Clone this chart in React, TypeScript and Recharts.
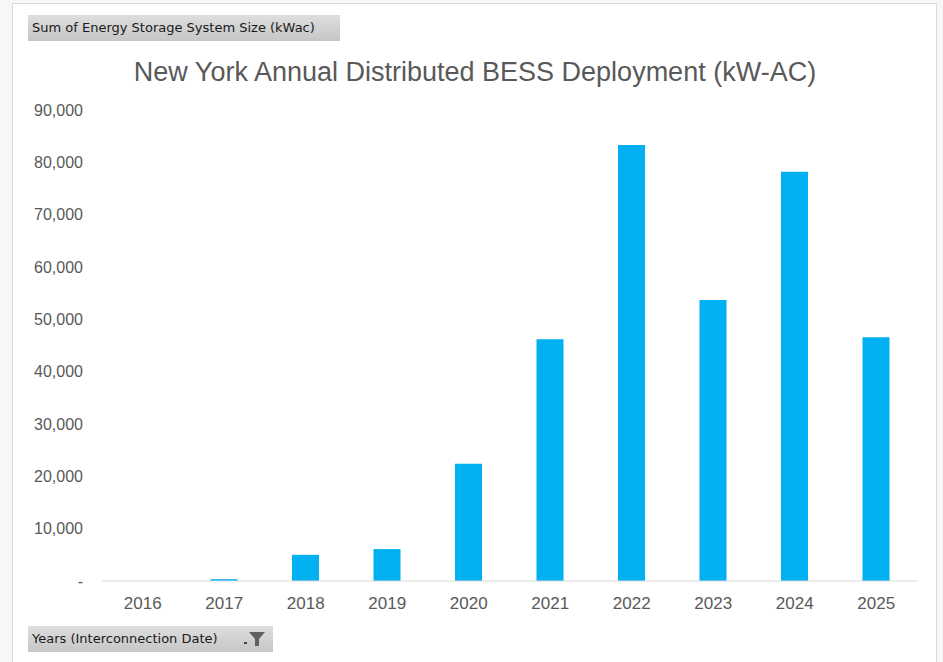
import { BarChart, Bar, XAxis, YAxis } from "recharts";

const years = ["2016", "2017", "2018", "2019", "2020", "2021", "2022", "2023", "2024", "2025"];
const sizeKwac = [0, 350, 5000, 6100, 22400, 46200, 83300, 53700, 78200, 46600];
const yTicks = [0, 10000, 20000, 30000, 40000, 50000, 60000, 70000, 80000, 90000];

const chartData = years.map((year, i) => ({ year, value: sizeKwac[i] }));

const formatTick = (v: number): string => (v === 0 ? "-" : v.toLocaleString("en-US"));

const font = "'Liberation Sans', Arial, sans-serif";

const buttonStyle: React.CSSProperties = {
  position: "absolute",
  left: 28,
  height: 26,
  boxSizing: "border-box",
  background: "linear-gradient(to bottom, #dedede, #c6c6c6)",
  fontFamily: "'DejaVu Sans', Tahoma, sans-serif",
  fontSize: 13,
  color: "#1a1a1a",
  lineHeight: "26px",
  paddingLeft: 4,
  whiteSpace: "nowrap",
};

const App = () => {
  return (
    <div
      style={{
        position: "absolute",
        left: 0,
        top: 0,
        width: 943,
        height: 662,
        background: "#f7f7f7",
        overflow: "hidden",
      }}
    >
      <div
        style={{
          position: "absolute",
          left: 12,
          top: 3,
          width: 925,
          height: 670,
          background: "#ffffff",
          border: "1px solid #d9d9d9",
          boxSizing: "border-box",
        }}
      />
      <div style={{ position: "absolute", left: 0, top: 0 }}>
        <BarChart
          width={943}
          height={662}
          data={chartData}
          margin={{ top: 110, right: 26, bottom: 51, left: 0 }}
        >
          <XAxis
            dataKey="year"
            height={30}
            axisLine={{ stroke: "#d9d9d9", strokeWidth: 1 }}
            tickLine={false}
            tickSize={0}
            tickMargin={16}
            tick={{ fill: "#595959", fontSize: 17, fontFamily: font }}
          />
          <YAxis
            width={102}
            domain={[0, 90000]}
            ticks={yTicks}
            interval={0}
            axisLine={false}
            tickLine={false}
            tickSize={0}
            tickMargin={19}
            tickFormatter={formatTick}
            tick={{ fill: "#595959", fontSize: 16, fontFamily: font }}
          />
          <Bar dataKey="value" fill="#00b0f0" barSize={27} isAnimationActive={false} />
        </BarChart>
      </div>
      <div
        style={{
          position: "absolute",
          left: 0,
          width: 950,
          top: 57,
          textAlign: "center",
          fontFamily: font,
          fontSize: 27,
          color: "#595959",
        }}
      >
        New York Annual Distributed BESS Deployment (kW-AC)
      </div>
      <div style={{ ...buttonStyle, top: 15, width: 312 }}>
        Sum of Energy Storage System Size (kWac)
      </div>
      <div style={{ ...buttonStyle, top: 626, width: 245 }}>
        Years (Interconnection Date)
        <svg
          width={24}
          height={20}
          viewBox="0 0 24 20"
          style={{ position: "absolute", right: 6, top: 3 }}
        >
          <rect x={1} y={13} width={3} height={2} fill="#404040" />
          <path d="M6 3 L22 3 L16 10 L16 17 L12 17 L12 10 Z" fill="#606060" />
        </svg>
      </div>
    </div>
  );
};

export default App;
